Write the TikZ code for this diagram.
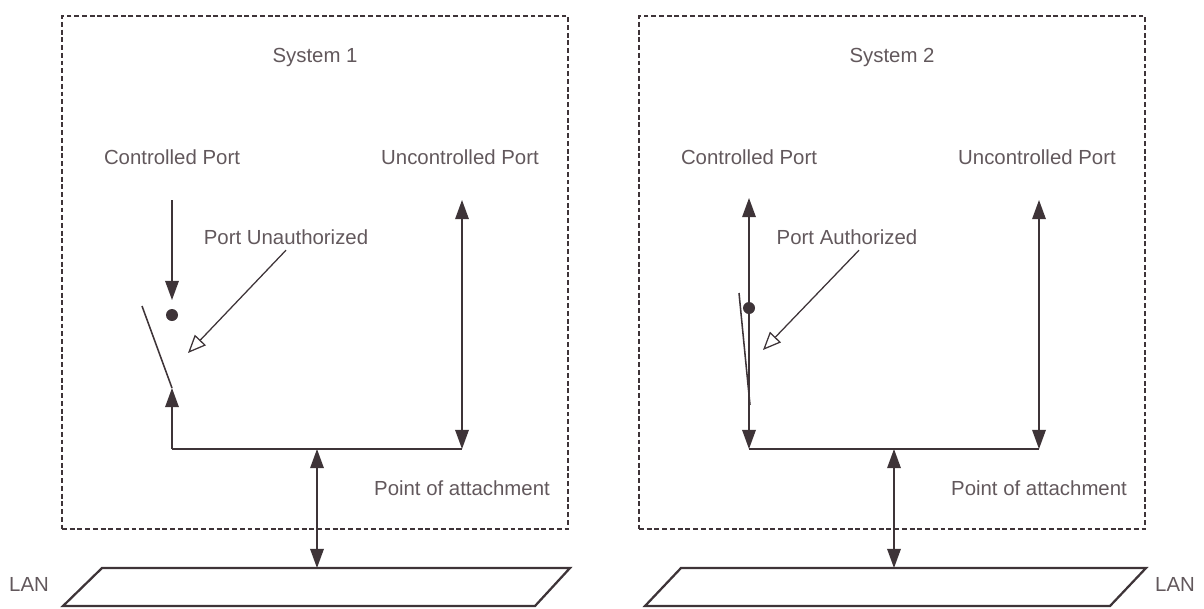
\documentclass[tikz,border=0pt]{standalone}
\usepackage{fontspec}
\setmainfont{Liberation Sans}
\usetikzlibrary{arrows.meta}
\definecolor{inkgray}{RGB}{62,52,56}
\definecolor{textgray}{RGB}{98,88,92}

\begin{document}
\begin{tikzpicture}[x=0.025cm, y=-0.025cm,
        every node/.style={text=textgray, font=\fontsize{14.5}{17}\selectfont, inner sep=1pt},
        sysbox/.style={draw=inkgray, line width=1.2pt, dash pattern=on 3.5pt off 2pt},
        wire/.style={draw=inkgray, line width=1.1pt},
        tip/.style={wire, -{Triangle[length=0.48cm, width=0.34cm]}},
        twoway/.style={wire, {Triangle[length=0.48cm, width=0.34cm]}-{Triangle[length=0.48cm, width=0.34cm]}},
        callout/.style={draw=inkgray, line width=0.9pt, -{Triangle[open, length=0.45cm, width=0.38cm]}},
        lan/.style={draw=inkgray, line width=1.6pt, line join=miter}
    ]
    \useasboundingbox (0,0) rectangle (1204,608);

    % the parts both systems share
    \foreach \i/\dx in {1/0, 2/577} {
        \node[sysbox, minimum width=12.65cm, minimum height=12.825cm] (box\i) at ({315+\dx},272.5) {};
        \node (sys\i) at ({315+\dx},57) {System \i};
        \node (ctl\i) at ({172+\dx},157) {Controlled Port};
        \node (unc\i) at ({460+\dx},157) {Uncontrolled Port};
        \node (poa\i) at ({462+\dx},488) {Point of attachment};
        \coordinate (ut\i) at ({462+\dx},200);
        \coordinate (ub\i) at ({462+\dx},449);
        \coordinate (cb\i) at ({172+\dx},449);
        \coordinate (at\i) at ({317+\dx},449);
        \coordinate (ab\i) at ({317+\dx},568);
        \draw[wire] (cb\i) -- (ub\i);
        \draw[twoway] (ut\i) -- (ub\i);
        \draw[twoway] (at\i) -- (ab\i);
    }

    % open switch
    \coordinate (cin1) at (172,200);
    \coordinate (stop1) at (172,300);
    \coordinate (pin1) at (172,315);
    \coordinate (hinge1) at (172,388);
    \coordinate (blade1) at (142,306);
    \draw[tip] (cin1) -- (stop1);
    \fill[inkgray] (pin1) circle[radius=0.15cm];
    \draw[wire] (hinge1) -- (blade1);
    \draw[tip] (cb1) -- (hinge1);
    \node (unauth) at (286,237) {Port Unauthorized};
    \coordinate (unauth tip) at (188,353);
    \draw[callout] ([yshift=-0.1cm]unauth.south) -- (unauth tip);

    % closed switch
    \coordinate (cin2) at (749,198);
    \coordinate (pin2) at (749,308);
    \coordinate (blade2) at (739,293);
    \coordinate (hinge2) at (750,405);
    \draw[twoway] (cin2) -- (cb2);
    \fill[inkgray] (pin2) circle[radius=0.15cm];
    \draw[wire] (blade2) -- (hinge2);
    \node (auth) at (847,237) {Port Authorized};
    \coordinate (auth tip) at (763,350);
    \draw[callout] ([xshift=0.3cm,yshift=-0.1cm]auth.south) -- (auth tip);

    % LAN segments
    \draw[lan] (102,568) -- (570,568) -- (535,606) -- (63,606) -- cycle;
    \node (lan1) at (29,584) {LAN};
    \draw[lan] (681,568) -- (1146,568) -- (1110,606) -- (645,606) -- cycle;
    \node (lan2) at (1175,584) {LAN};
\end{tikzpicture}
\end{document}
